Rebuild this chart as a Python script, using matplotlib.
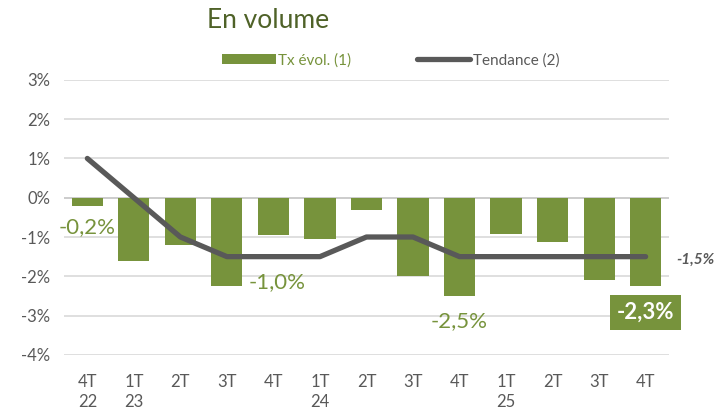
import matplotlib.pyplot as plt
from matplotlib.ticker import FuncFormatter

plt.rcParams['font.family'] = ['Lato', 'DejaVu Sans']

quarters = ["4T\n22", "1T\n23", "2T", "3T", "4T", "1T\n24", "2T", "3T", "4T", "1T\n25", "2T", "3T", "4T"]
tx_evol = [-0.2, -1.6, -1.2, -2.25, -0.95, -1.05, -0.3, -2.0, -2.5, -0.93, -1.13, -2.1, -2.25]
tendance = [1.0, 0.0, -1.0, -1.5, -1.5, -1.5, -1.0, -1.0, -1.5, -1.5, -1.5, -1.5, -1.5]

green = "#77933C"
grey = "#595959"

fig = plt.figure(figsize=(7.2, 4.16), dpi=100)
ax = fig.add_axes([0.089, 0.147, 0.84, 0.661])

x = list(range(len(quarters)))
bars = ax.bar(x, tx_evol, width=0.67, color=green, label="Tx évol. (1)", zorder=2)
line, = ax.plot(x, tendance, color=grey, linewidth=3.8, label="Tendance (2)", zorder=3,
                solid_capstyle='round')

ax.set_ylim(-4, 3)
ax.set_xlim(-0.5, len(quarters) - 0.5)
ax.set_yticks(range(-4, 4))
ax.yaxis.set_major_formatter(FuncFormatter(lambda v, p: f"{int(v)}%"))
ax.set_xticks(x)
ax.set_xticklabels(quarters, linespacing=1.3)
ax.tick_params(length=0, labelsize=12, colors=grey)
ax.tick_params(axis='x', pad=14)
ax.tick_params(axis='y', pad=10)
ax.grid(axis='y', color="#D9D9D9", linewidth=1.2, zorder=0)
ax.axhline(0, color="#7F7F7F", linewidth=1.2, zorder=1)
for s in ax.spines.values():
    s.set_visible(False)

# labels
ax.text(0.0, -0.75, "-0,2%", color=green, fontsize=16, ha='center', va='center')
ax.text(4.08, -2.16, "-1,0%", color=green, fontsize=16, ha='center', va='center')
ax.text(8.0, -3.15, "-2,5%", color=green, fontsize=16, ha='center', va='center')
ax.text(12.0, -2.92, "-2,3%", color="white", fontsize=16, fontweight='bold', ha='center', va='center',
        bbox=dict(boxstyle='square,pad=0.3', facecolor=green, edgecolor='none'))
ax.text(13.07, -1.57, "-1,5%", color=grey, fontsize=11, fontweight='bold', style='italic',
        ha='center', va='center', clip_on=False)

fig.text(0.373, 0.95, "En volume", color="#4F6228", fontsize=19, ha='center', va='center')
leg = ax.legend(handles=[bars, line], loc='lower center', bbox_to_anchor=(0.54, 0.995), ncol=2,
                frameon=False, fontsize=11, handlelength=3.5, handletextpad=0.15, columnspacing=4.3)
for t, c in zip(leg.get_texts(), [green, grey]):
    t.set_color(c)

fig.savefig("out.png", dpi=100)
